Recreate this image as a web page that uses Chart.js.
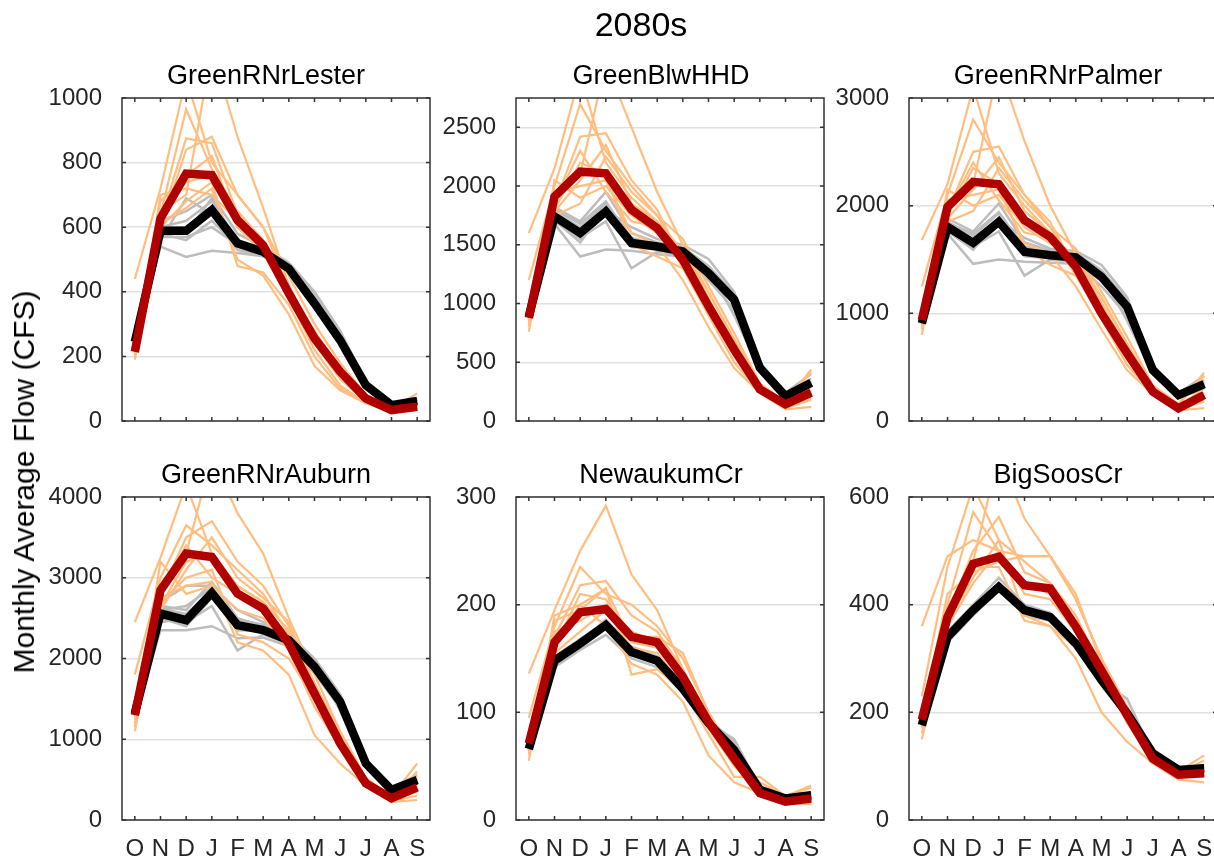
<!DOCTYPE html>
<html>
<head>
<meta charset="utf-8">
<title>2080s</title>
<script src="https://cdn.jsdelivr.net/npm/chart.js@4.4.1/dist/chart.umd.min.js"></script>
<style>
  body { margin: 0; background: #fff; width: 1214px; height: 859px; overflow: hidden; position: relative; font-family: "Liberation Sans", Arial, sans-serif; }
  canvas { position: absolute; }
  .txt { position: absolute; white-space: nowrap; line-height: 1; color: #000; transform: translate(-50%, -50%); }
</style>
</head>
<body>
<script>
// months of the water year, October first
const months = ['O', 'N', 'D', 'J', 'F', 'M', 'A', 'M', 'J', 'J', 'A', 'S'];
const figTitle = '2080s';
const yLabel = 'Monthly Average Flow (CFS)';
const siteNames = ['GreenRNrLester', 'GreenBlwHHD', 'GreenRNrPalmer', 'GreenRNrAuburn', 'NewaukumCr', 'BigSoosCr'];
const yMaxes = [1000, 2750, 3000, 4000, 300, 600];
const yTickVals = [
  [0, 200, 400, 600, 800, 1000],
  [0, 500, 1000, 1500, 2000, 2500],
  [0, 1000, 2000, 3000],
  [0, 1000, 2000, 3000, 4000],
  [0, 100, 200, 300],
  [0, 200, 400, 600]
];

// --- GreenRNrLester
const lesterHist = [245, 589, 589, 653, 550, 524, 472, 364, 250, 111, 49, 62];
const lesterFut = [214, 627, 766, 761, 622, 544, 395, 256, 153, 70, 34, 44];
const lesterHistRuns = [
  [240, 600, 620, 680, 560, 530, 480, 380, 260, 110, 50, 60],
  [250, 580, 560, 620, 540, 520, 470, 360, 250, 115, 55, 65],
  [235, 540, 508, 527, 520, 510, 460, 350, 240, 105, 45, 55],
  [245, 620, 650, 700, 580, 540, 490, 400, 280, 120, 50, 70],
  [255, 570, 570, 600, 545, 515, 475, 370, 255, 110, 48, 62],
  [240, 600, 600, 660, 555, 525, 485, 375, 265, 118, 52, 66],
  [250, 560, 690, 640, 530, 510, 465, 360, 245, 108, 50, 60],
  [245, 590, 580, 690, 550, 530, 480, 390, 270, 115, 55, 68]
];
const lesterFutRuns = [
  [440, 720, 1060, 800, 700, 600, 450, 300, 180, 80, 40, 55],
  [200, 640, 965, 780, 650, 560, 420, 260, 150, 70, 35, 45],
  [190, 620, 875, 860, 640, 540, 400, 250, 140, 65, 30, 40],
  [215, 600, 840, 880, 700, 600, 410, 240, 130, 60, 28, 38],
  [205, 680, 760, 820, 600, 520, 380, 220, 110, 55, 30, 42],
  [210, 650, 700, 1150, 880, 660, 420, 260, 150, 70, 35, 50],
  [220, 600, 680, 740, 480, 460, 360, 200, 100, 60, 30, 40],
  [200, 700, 720, 700, 620, 560, 400, 260, 140, 70, 36, 55],
  [225, 610, 660, 720, 500, 450, 330, 170, 95, 55, 28, 35],
  [210, 630, 740, 760, 600, 540, 390, 280, 160, 75, 38, 85]
];

// --- GreenBlwHHD
const hhdHist = [890, 1741, 1600, 1783, 1515, 1486, 1444, 1260, 1033, 453, 212, 326];
const hhdFut = [878, 1911, 2123, 2109, 1798, 1642, 1373, 977, 609, 269, 142, 241];
const hhdHistRuns = [
  [880, 1700, 1550, 1760, 1500, 1470, 1430, 1250, 1020, 450, 210, 320],
  [900, 1780, 1650, 1850, 1560, 1500, 1460, 1290, 1060, 470, 220, 340],
  [870, 1680, 1400, 1460, 1450, 1420, 1400, 1200, 950, 420, 190, 300],
  [910, 1820, 1700, 1950, 1600, 1520, 1480, 1320, 1080, 480, 230, 360],
  [885, 1730, 1560, 1700, 1300, 1440, 1420, 1240, 1000, 440, 205, 310],
  [895, 1760, 1620, 1800, 1650, 1550, 1500, 1380, 1100, 500, 240, 400],
  [875, 1710, 1520, 1820, 1480, 1460, 1450, 1270, 1040, 455, 215, 330],
  [905, 1800, 1680, 1870, 1540, 1490, 1470, 1300, 900, 430, 200, 290]
];
const hhdFutRuns = [
  [1600, 2150, 2950, 2200, 1900, 1700, 1300, 900, 500, 250, 130, 220],
  [1200, 2000, 2700, 2300, 2000, 1750, 1400, 1000, 600, 270, 140, 260],
  [900, 1850, 2420, 2450, 2050, 1800, 1350, 950, 550, 260, 120, 200],
  [850, 1900, 2100, 3050, 2500, 1950, 1500, 1100, 700, 300, 150, 250],
  [800, 1800, 2200, 2100, 1500, 1400, 1300, 1000, 650, 280, 140, 230],
  [760, 2050, 1900, 2000, 1750, 1600, 1450, 1050, 620, 250, 110, 180],
  [880, 1750, 1850, 2250, 1950, 1750, 1550, 1150, 750, 320, 160, 440],
  [820, 1950, 2000, 2050, 1600, 1500, 1200, 800, 450, 240, 100, 120],
  [870, 1850, 2300, 1950, 1700, 1650, 1350, 1000, 580, 270, 130, 300],
  [840, 1780, 2050, 2350, 1850, 1700, 1450, 1100, 680, 290, 150, 420]
];

// --- GreenRNrPalmer
const palmerHist = [906, 1803, 1655, 1850, 1571, 1540, 1519, 1339, 1061, 473, 241, 343];
const palmerFut = [937, 1989, 2221, 2199, 1865, 1710, 1432, 999, 628, 272, 118, 241];
const palmerHistRuns = [
  [910, 1760, 1600, 1820, 1550, 1520, 1500, 1320, 1050, 470, 235, 335],
  [930, 1850, 1720, 1930, 1620, 1560, 1540, 1370, 1100, 490, 250, 360],
  [895, 1740, 1460, 1500, 1480, 1470, 1460, 1250, 980, 440, 210, 310],
  [940, 1880, 1760, 2020, 1660, 1580, 1560, 1400, 1120, 500, 260, 380],
  [905, 1790, 1620, 1760, 1350, 1500, 1480, 1300, 1030, 460, 225, 320],
  [920, 1820, 1680, 1870, 1700, 1600, 1580, 1450, 1150, 520, 255, 420],
  [900, 1770, 1590, 1890, 1530, 1510, 1500, 1330, 1070, 465, 230, 345],
  [925, 1840, 1740, 1940, 1600, 1540, 1530, 1360, 930, 440, 215, 300]
];
const palmerFutRuns = [
  [1680, 2200, 3100, 2300, 2000, 1750, 1350, 950, 520, 260, 130, 230],
  [1250, 2100, 2800, 2400, 2100, 1800, 1450, 1050, 620, 280, 140, 260],
  [950, 1950, 2500, 2550, 2100, 1850, 1400, 1000, 570, 270, 120, 200],
  [880, 2000, 2200, 3300, 2600, 2000, 1550, 1150, 720, 310, 150, 260],
  [850, 1900, 2350, 2200, 1600, 1450, 1350, 1050, 680, 290, 140, 240],
  [800, 2150, 2000, 2100, 1800, 1650, 1500, 1100, 650, 260, 110, 180],
  [920, 1850, 1950, 2350, 2050, 1800, 1600, 1200, 780, 330, 160, 450],
  [860, 2050, 2100, 2150, 1650, 1550, 1250, 850, 470, 250, 100, 120],
  [900, 1950, 2400, 2050, 1750, 1700, 1400, 1050, 600, 280, 130, 310],
  [870, 1880, 2150, 2450, 1950, 1750, 1500, 1150, 700, 300, 150, 420]
];

// --- GreenRNrAuburn
const auburnHist = [1320, 2557, 2474, 2812, 2412, 2351, 2227, 1897, 1464, 701, 371, 495];
const auburnFut = [1299, 2845, 3299, 3258, 2804, 2619, 2186, 1567, 948, 454, 268, 404];
const auburnHistRuns = [
  [1300, 2500, 2400, 2750, 2380, 2320, 2200, 1880, 1450, 690, 360, 480],
  [1340, 2650, 2600, 2950, 2500, 2400, 2280, 1950, 1520, 730, 390, 520],
  [1280, 2350, 2350, 2400, 2250, 2260, 2150, 1820, 1380, 660, 340, 440],
  [1350, 2700, 2900, 2900, 2600, 2450, 2300, 2000, 1560, 750, 400, 560],
  [1310, 2550, 2450, 2650, 2100, 2300, 2180, 1860, 1420, 680, 350, 470],
  [1330, 2620, 2550, 2850, 2450, 2380, 2250, 1930, 1500, 720, 380, 510],
  [1290, 2450, 2500, 2800, 2350, 2340, 2210, 1900, 1470, 700, 370, 490],
  [1320, 2600, 2650, 2880, 2480, 2420, 2260, 1960, 1350, 670, 355, 460]
];
const auburnFutRuns = [
  [2450, 3250, 4150, 3300, 2900, 2700, 2200, 1500, 900, 450, 270, 420],
  [1800, 3000, 3650, 3400, 3100, 2800, 2300, 1600, 1000, 480, 260, 400],
  [1250, 2800, 3500, 3700, 3200, 2900, 2400, 1700, 1050, 500, 280, 450],
  [1150, 2900, 3300, 4500, 3800, 3300, 2500, 1800, 1100, 520, 290, 700],
  [1100, 2700, 3000, 3100, 2300, 2200, 2000, 1500, 1000, 500, 260, 380],
  [1200, 3200, 2800, 2900, 2600, 2500, 2100, 1400, 900, 470, 240, 300],
  [1300, 2600, 3100, 3500, 3000, 2750, 2450, 1650, 1050, 510, 280, 550],
  [1150, 2750, 2900, 2950, 2200, 2100, 1800, 1050, 700, 420, 220, 250],
  [1250, 2850, 3400, 3000, 2800, 2600, 2300, 1550, 950, 480, 250, 350],
  [1180, 2650, 3200, 3300, 2900, 2700, 2350, 1600, 980, 490, 270, 600]
];

// --- NewaukumCr
const newaukumHist = [66, 148, 164, 181, 156, 148, 122, 90, 65, 28, 20, 23];
const newaukumFut = [71, 165, 193, 196, 170, 165, 133, 91, 57, 25, 17, 20];
const newaukumHistRuns = [
  [64, 145, 160, 178, 153, 145, 120, 89, 66, 29, 20, 22],
  [68, 152, 168, 184, 159, 150, 124, 92, 70, 30, 21, 25],
  [65, 142, 158, 172, 150, 142, 118, 88, 68, 28, 19, 22],
  [67, 150, 166, 186, 161, 152, 126, 94, 72, 31, 21, 26],
  [66, 147, 163, 180, 155, 147, 121, 90, 75, 30, 20, 24],
  [65, 149, 165, 182, 157, 149, 123, 88, 64, 27, 19, 23]
];
const newaukumFutRuns = [
  [136, 195, 250, 292, 228, 195, 140, 90, 55, 30, 20, 22],
  [95, 180, 235, 210, 200, 180, 150, 100, 60, 35, 22, 32],
  [70, 170, 218, 222, 190, 175, 140, 95, 55, 28, 18, 20],
  [60, 160, 210, 205, 170, 170, 155, 100, 60, 25, 16, 18],
  [55, 190, 200, 215, 135, 140, 120, 80, 40, 40, 22, 30],
  [65, 175, 185, 200, 175, 165, 130, 95, 60, 28, 17, 20],
  [72, 165, 200, 180, 145, 135, 110, 60, 35, 25, 15, 15],
  [68, 185, 195, 215, 165, 160, 135, 92, 55, 27, 16, 20],
  [62, 155, 175, 195, 160, 155, 125, 85, 50, 26, 15, 19]
];

// --- BigSoosCr
const soosHist = [176, 340, 390, 433, 390, 377, 328, 260, 198, 124, 93, 96];
const soosFut = [186, 377, 476, 489, 436, 430, 359, 278, 195, 114, 84, 87];
const soosHistRuns = [
  [172, 330, 380, 425, 385, 372, 322, 255, 195, 122, 92, 95],
  [180, 345, 395, 440, 395, 382, 335, 265, 210, 126, 95, 100],
  [174, 335, 385, 430, 388, 375, 325, 258, 225, 123, 91, 94],
  [178, 350, 400, 450, 400, 385, 330, 262, 200, 127, 96, 102],
  [175, 338, 388, 436, 380, 370, 326, 250, 190, 120, 90, 93]
];
const soosFutRuns = [
  [360, 490, 520, 500, 490, 490, 410, 300, 200, 120, 90, 120],
  [230, 470, 620, 520, 480, 440, 380, 280, 190, 115, 85, 100],
  [200, 400, 572, 500, 440, 420, 360, 270, 180, 110, 80, 90],
  [170, 380, 500, 563, 460, 440, 370, 290, 200, 115, 88, 95],
  [150, 360, 480, 680, 560, 490, 410, 300, 210, 120, 90, 100],
  [190, 420, 460, 480, 490, 490, 420, 290, 190, 110, 80, 85],
  [160, 370, 450, 520, 380, 360, 300, 200, 145, 105, 75, 70],
  [180, 390, 470, 470, 370, 360, 320, 260, 190, 118, 88, 110],
  [175, 360, 440, 500, 420, 410, 350, 280, 200, 120, 85, 90]
];

const histMeans = [lesterHist, hhdHist, palmerHist, auburnHist, newaukumHist, soosHist];
const futMeans = [lesterFut, hhdFut, palmerFut, auburnFut, newaukumFut, soosFut];
const histRuns = [lesterHistRuns, hhdHistRuns, palmerHistRuns, auburnHistRuns, newaukumHistRuns, soosHistRuns];
const futRuns = [lesterFutRuns, hhdFutRuns, palmerFutRuns, auburnFutRuns, newaukumFutRuns, soosFutRuns];

// layout (pixels)
const colX = [122, 516, 909];
const rowY = [98, 497];
const PW = 308, PH = 323;
const AXW = 100, PADT = 40, PADR = 6, XAH = 40, PADB = 20;
const titleX = [266, 661, 1058];
const titleY = [75, 474];

const tickFont = { family: 'Liberation Sans', size: 24 };
const tickColor = '#262626';

// draws the box and inward tick marks
const boxAxes = {
  id: 'boxAxes',
  afterDatasetsDraw(chart) {
    const { ctx, chartArea: a, scales } = chart;
    const tk = 4;
    ctx.save();
    ctx.strokeStyle = '#333333';
    ctx.lineWidth = 1.5;
    ctx.beginPath();
    scales.x.ticks.forEach((t, i) => {
      const px = scales.x.getPixelForTick(i);
      ctx.moveTo(px, a.bottom); ctx.lineTo(px, a.bottom - tk);
      ctx.moveTo(px, a.top); ctx.lineTo(px, a.top + tk);
    });
    scales.y.ticks.forEach(t => {
      const py = scales.y.getPixelForValue(t.value);
      ctx.moveTo(a.left, py); ctx.lineTo(a.left + tk, py);
      ctx.moveTo(a.right, py); ctx.lineTo(a.right - tk, py);
    });
    ctx.stroke();
    ctx.strokeRect(a.left, a.top, a.right - a.left, a.bottom - a.top);
    ctx.restore();
  }
};

function addText(str, x, y, size, rotate) {
  const d = document.createElement('div');
  d.className = 'txt';
  d.textContent = str;
  d.style.left = x + 'px';
  d.style.top = y + 'px';
  d.style.fontSize = size + 'px';
  if (rotate) d.style.transform = 'translate(-50%, -50%) rotate(-90deg)';
  document.body.appendChild(d);
}

function lineSet(values, color, width, order) {
  return {
    data: values,
    borderColor: color,
    borderWidth: width,
    pointRadius: 0,
    tension: 0,
    fill: false,
    clip: 0,
    order: order
  };
}

function makePanel(i) {
  const col = i % 3, row = Math.floor(i / 3);
  const bottomRow = row === 1;
  const canvas = document.createElement('canvas');
  canvas.width = AXW + PW + PADR;
  canvas.height = PADT + PH + (bottomRow ? XAH + PADB : PADT);
  canvas.style.left = (colX[col] - AXW) + 'px';
  canvas.style.top = (rowY[row] - PADT) + 'px';
  document.body.appendChild(canvas);

  const datasets = [];
  histRuns[i].forEach(r => datasets.push(lineSet(r, '#bdbdbd', 2.5, 3)));
  futRuns[i].forEach(r => datasets.push(lineSet(r, '#ffbe80', 2.2, 2)));
  datasets.push(lineSet(histMeans[i], '#000000', 8.5, 1));
  datasets.push(lineSet(futMeans[i], '#b00000', 8.5, 0));

  const ticksY = yTickVals[i];
  new Chart(canvas, {
    type: 'line',
    data: { labels: months, datasets: datasets },
    plugins: [boxAxes],
    options: {
      responsive: false,
      animation: false,
      events: [],
      layout: { padding: { left: 0, top: PADT, right: PADR, bottom: bottomRow ? PADB : PADT } },
      plugins: { legend: { display: false }, tooltip: { enabled: false }, title: { display: false } },
      scales: {
        x: {
          type: 'category',
          offset: true,
          grid: { display: false },
          border: { display: false },
          ticks: {
            display: bottomRow,
            autoSkip: false,
            maxRotation: 0,
            padding: 7,
            font: tickFont,
            color: tickColor
          },
          afterFit: s => { s.height = bottomRow ? XAH : 0; }
        },
        y: {
          min: 0,
          max: yMaxes[i],
          afterBuildTicks: s => { s.ticks = ticksY.map(v => ({ value: v })); },
          grid: { color: '#e0e0e0', lineWidth: 1.5, drawTicks: false },
          border: { display: false },
          ticks: {
            padding: 20,
            font: tickFont,
            color: tickColor,
            callback: v => String(v)
          },
          afterFit: s => { s.width = AXW; }
        }
      }
    }
  });

  addText(siteNames[i], titleX[col], titleY[row], 27);
}

for (let i = 0; i < siteNames.length; i++) makePanel(i);

addText(figTitle, 641, 24, 34);
addText(yLabel, 24, 482, 30, true);
</script>
</body>
</html>
